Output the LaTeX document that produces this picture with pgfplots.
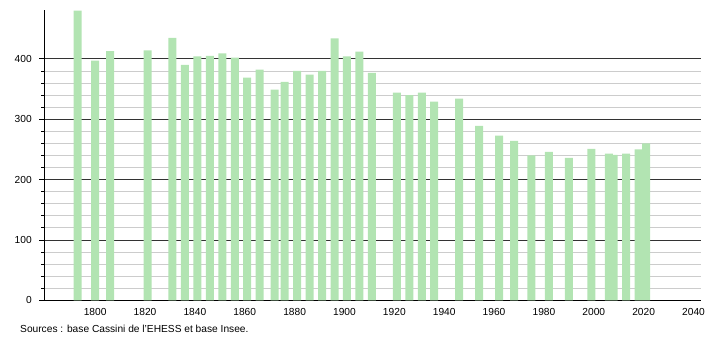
\documentclass[border=0pt]{standalone}
\usepackage{pgfplots}
\pgfplotsset{compat=1.18}
\usepackage{fontspec}
\setmainfont{Liberation Sans}
\definecolor{barg}{RGB}{178,228,178}
\begin{document}
\fontsize{10.2pt}{12pt}\selectfont
\begin{tikzpicture}
\useasboundingbox (0,0) rectangle (710pt,340pt);
\begin{axis}[
  at={(44.3pt,39.7pt)}, anchor=south west,
  scale only axis, width=656.7pt, height=290.3pt,
  xmin=1779.6, xmax=2043, ymin=0, ymax=481,
  axis x line*=bottom, axis y line*=left,
  axis line style={black, line width=1pt, -},
  xtick={1800,1820,...,2040},
  ytick={0,100,...,400},
  minor y tick num=4,
  ymajorgrids, yminorgrids,
  major grid style={draw=black!80, line width=0.8pt},
  minor grid style={draw=black!20, line width=0.8pt},
  x tick style={draw=none},
  y tick style={black, line width=0.8pt},
  major tick length=5pt, minor tick length=3pt,
  tick align=outside,
  tick label style={font=\fontsize{10.2pt}{12pt}\selectfont},
  yticklabel style={xshift=-4pt},
  xticklabel style={yshift=1pt},
  /pgf/number format/assume math mode=true,
  /pgf/number format/1000 sep={},
  ybar, bar width=8pt,
]
\addplot[fill=barg, draw=none] coordinates {
(1793,480) (1800,397) (1806,413) (1821,414) (1831,435) (1836,390)
(1841,404) (1846,405) (1851,409) (1856,402) (1861,369) (1866,382)
(1872,349) (1876,362) (1881,380) (1886,374) (1891,380) (1896,434)
(1901,404) (1906,412) (1911,377) (1921,344) (1926,340) (1931,344)
(1936,329) (1946,334) (1954,289) (1962,273) (1968,264) (1975,240)
(1982,246) (1990,236) (1999,251) (2006,243) (2008,241) (2013,243)
(2018,250) (2021,260)
};
\end{axis}
\node[anchor=west, inner sep=0pt] at (20pt,11.5pt) {Sources : base Cassini de l'EHESS et base Insee.};
\end{tikzpicture}
\end{document}
